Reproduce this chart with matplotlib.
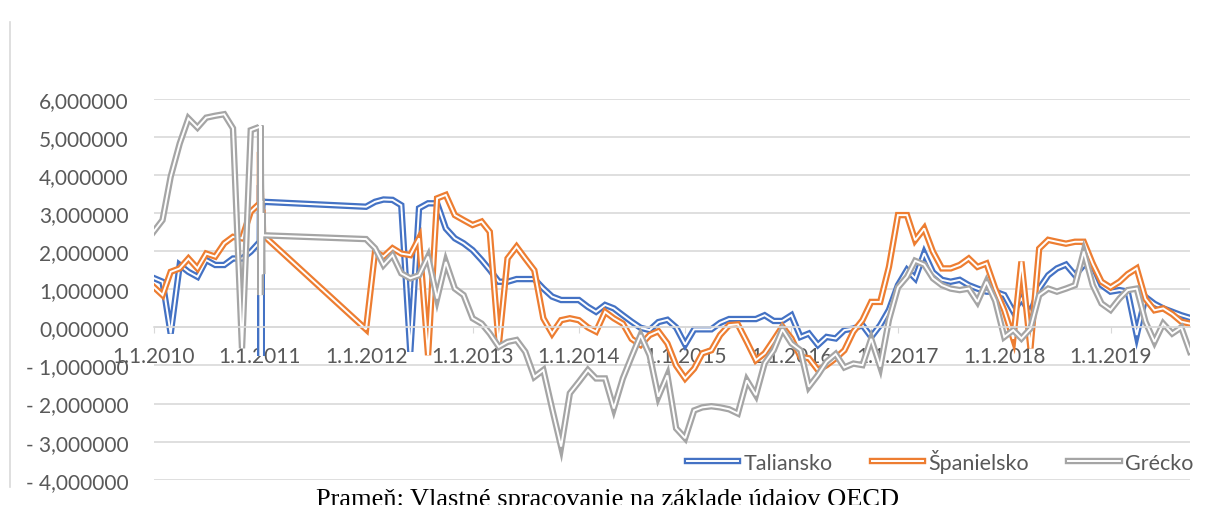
import datetime as dt
import matplotlib
matplotlib.use('Agg')
import matplotlib.pyplot as plt
import matplotlib.patheffects as pe
from matplotlib.lines import Line2D
from matplotlib.ticker import FuncFormatter

# x: monthly 2010, the 2011 rows sit on 1.1.-12.1.2011 in the source sheet, then monthly 2012 - 10/2019
dates = ([dt.date(2010, m, 1) for m in range(1, 13)]
         + [dt.date(2011, 1, d) for d in range(1, 13)]
         + [dt.date(y, m, 1) for y in range(2012, 2020) for m in range(1, 13) if (y, m) <= (2019, 10)])

taliansko = [1.30, 1.20, -0.16, 1.64, 1.46, 1.33, 1.77, 1.64, 1.64, 1.81, 1.81, 1.99,
             2.25, 3.74, 2.50, -0.75, 2.60, 2.70, -0.75, 2.80, 3.00, 3.20, 3.30, 3.30,
             3.17, 3.30, 3.36, 3.35, 3.21, -0.64, 3.13, 3.26, 3.26, 2.60, 2.34, 2.21,
             2.03, 1.77, 1.51, 1.20, 1.20, 1.27, 1.27, 1.27, 1.02, 0.81, 0.72, 0.72,
             0.72, 0.54, 0.41, 0.59, 0.50, 0.32, 0.15, -0.01, -0.07, 0.14, 0.20, 0.00,
             -0.45, -0.05, -0.05, -0.05, 0.12, 0.22, 0.22, 0.22, 0.22, 0.32, 0.17, 0.17,
             0.32, -0.25, -0.16, -0.46, -0.25, -0.29, -0.07, -0.03, 0.06, -0.25, 0.06, 0.46,
             1.11, 1.51, 1.29, 1.95, 1.45, 1.25, 1.20, 1.25, 1.11, 1.02, 0.94, 0.94,
             0.85, 0.42, 0.75, 0.37, 1.02, 1.37, 1.55, 1.65, 1.37, 1.64, 1.64, 1.11,
             0.94, 0.98, 0.94, -0.20, 0.80, 0.62, 0.50, 0.41, 0.32, 0.25]

spanielsko = [1.07, 0.85, 1.46, 1.55, 1.81, 1.55, 1.94, 1.86, 2.21, 2.38, 2.34, 3.04,
              3.26, 4.61, 3.60, 3.80, 3.50, 3.20, 3.10, 3.00, 3.10, 3.00, 2.90, 2.43,
              -0.05, 1.99, 1.86, 2.08, 1.94, 1.90, 2.34, -0.73, 3.39, 3.48, 2.95, 2.82,
              2.69, 2.78, 2.51, -0.46, 1.81, 2.12, 1.81, 1.50, 0.24, -0.16, 0.19, 0.24,
              0.19, 0.00, -0.11, 0.41, 0.24, 0.10, -0.30, -0.46, -0.20, -0.10, -0.42, -1.00,
              -1.34, -1.08, -0.68, -0.60, -0.20, 0.06, 0.08, -0.38, -0.86, -0.68, -0.33, 0.02,
              -0.29, -0.77, -0.81, -1.12, -0.99, -0.81, -0.60, -0.11, 0.19, 0.67, 0.67, 1.59,
              2.95, 2.95, 2.29, 2.60, 1.99, 1.55, 1.55, 1.64, 1.81, 1.59, 1.68, 1.02,
              0.45, -0.30, 1.73, -0.55, 2.07, 2.30, 2.25, 2.20, 2.25, 2.25, 1.67, 1.20,
              1.05, 1.20, 1.40, 1.55, 0.75, 0.45, 0.50, 0.35, 0.15, 0.10]

grecko = [2.51, 2.82, 3.96, 4.83, 5.49, 5.25, 5.51, 5.56, 5.60, 5.23, -0.55, 5.18,
          5.27, 5.30, 0.85, 5.30, 3.90, 3.30, 3.30, 2.10, 1.40, 2.90, 3.00, 2.42,
          2.32, 2.08, 1.64, 1.90, 1.42, 1.29, 1.37, 1.86, 0.76, 1.72, 1.02, 0.85,
          0.24, 0.10, -0.16, -0.51, -0.38, -0.33, -0.64, -1.30, -1.12, -2.13, -3.13, -1.73,
          -1.43, -1.12, -1.34, -1.34, -2.13, -1.34, -0.77, -0.20, -0.73, -1.82, -1.26, -2.65,
          -2.91, -2.18, -2.10, -2.07, -2.10, -2.15, -2.26, -1.39, -1.78, -0.94, -0.60, -0.05,
          -0.42, -0.60, -1.56, -1.25, -0.90, -0.70, -1.05, -0.95, -0.99, -0.30, -1.03, 0.20,
          1.05, 1.33, 1.75, 1.65, 1.29, 1.11, 1.02, 0.98, 1.02, 0.67, 1.20, 0.70,
          -0.25, -0.07, -0.29, -0.03, 0.85, 1.02, 0.94, 1.02, 1.11, 1.99, 1.11, 0.63,
          0.46, 0.76, 0.98, 1.02, 0.15, -0.38, 0.10, -0.16, 0.00, -0.64]

series = [('Taliansko', taliansko, '#4472C4'),
          ('Španielsko', spanielsko, '#ED7D31'),
          ('Grécko', grecko, '#A5A5A5')]
year_ticks = [dt.date(y, 1, 1) for y in range(2010, 2020)]
y_ticks = list(range(-4, 7))

plt.rcParams['font.family'] = ['Lato', 'DejaVu Sans']
txt = '#595959'
grid = '#D9D9D9'

fig = plt.figure(figsize=(12.05, 5.06), dpi=100)
W, H = 1205, 506
ax = fig.add_axes([153.5 / W, 1 - 480.7 / H, (1190 - 153.5) / W, (480.7 - 100) / H])

for name, vals, col in series:
    ax.plot(dates, vals, color=col, lw=4.6, label=name, solid_joinstyle='miter',
            path_effects=[pe.Stroke(linewidth=4.6, foreground=col),
                          pe.Stroke(linewidth=1.4, foreground='white')])

ax.set_xlim(dt.date(2010, 1, 1), dt.date(2019, 10, 1))
ax.set_ylim(-4, 6)
ax.set_yticks(y_ticks)
ax.set_xticks(year_ticks)
ax.set_xticklabels(['1.1.%d' % d.year for d in year_ticks])

def fmt(v, pos):
    s = ('%.6f' % abs(v)).replace('.', ',')
    return '- ' + s if v < 0 else s

ax.yaxis.set_major_formatter(FuncFormatter(fmt))
ax.yaxis.grid(True, color=grid, lw=1.2)
ax.set_axisbelow(True)
for s in ['left', 'right', 'top']:
    ax.spines[s].set_visible(False)
ax.spines['bottom'].set_position(('data', 0))
ax.spines['bottom'].set_color(grid)
ax.spines['bottom'].set_linewidth(1.2)
ax.tick_params(axis='x', direction='out', length=4, color=grid, labelcolor=txt, labelsize=15, pad=9.5)
ax.tick_params(axis='y', length=0, labelcolor=txt, labelsize=15, pad=18)

ax.legend(loc='center', bbox_to_anchor=(940 / W, 1 - 462 / H), bbox_transform=fig.transFigure,
          ncol=3, frameon=False, fontsize=15.5, handlelength=2.4, handletextpad=0.25,
          columnspacing=1.8, borderpad=0, labelcolor=txt)

# chart border (left edge only visible) and source line under the chart, cut by the page crop
fig.add_artist(Line2D([10 / W, 10 / W], [1 - 23 / H, 1 - 488 / H], transform=fig.transFigure,
                      color=grid, lw=1.2))
fig.text(607 / W, 1 - 489 / H, 'Prameň: Vlastné spracovanie na základe údajov OECD',
         family='Liberation Serif', fontsize=19, ha='center', va='top', color='black')

fig.savefig('out.png', dpi=100)
